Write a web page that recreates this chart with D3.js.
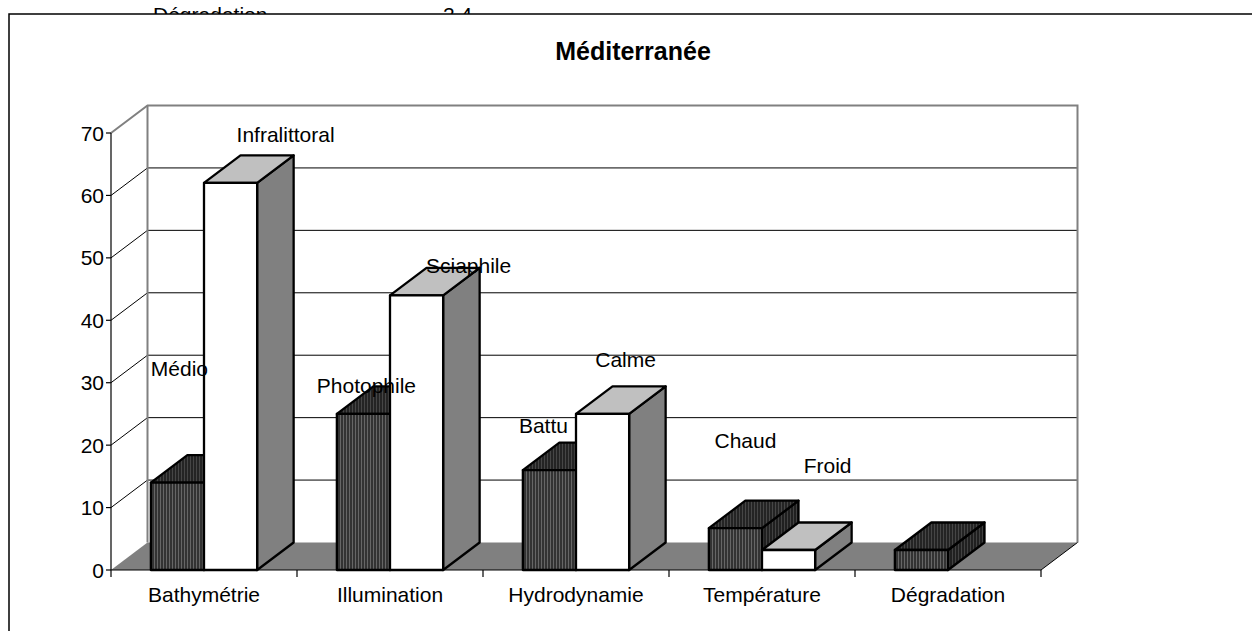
<!DOCTYPE html>
<html><head><meta charset="utf-8">
<script src="https://cdn.jsdelivr.net/npm/d3@7"></script>
<style>html,body{margin:0;padding:0;background:#fff;overflow:hidden}svg{display:block}text{font-family:"Liberation Sans",Arial,sans-serif}</style>
</head><body>
<svg id="c" width="1252" height="631"></svg>
<script>
const title = "Méditerranée";
const categories = ["Bathymétrie","Illumination","Hydrodynamie","Température","Dégradation"];
const seriesDarkValues  = [14, 25, 16, 6.7, 3.2];
const seriesWhiteValues = [62, 44, 25, 3.2, null];
const seriesDarkLabels  = ["Médio","Photophile","Battu","Chaud",""];
const seriesWhiteLabels = ["Infralittoral","Sciaphile","Calme","Froid",""];
const yTicks = [0,10,20,30,40,50,60,70];
const strayText = ["Dégradation","2.4"];

// layout (label placement offsets, in px relative to the bar's front-face centre / value units)
const darkLabelDx  = [2, 3, -6, 10, 0];
const darkLabelAt  = [31, 28.4, 22.0, 19.6, 0];
const whiteLabelDx = [55, 52, 23, 39, 0];
const whiteLabelAt = [68.6, 47.6, 32.5, 15.5, 0];

const svg = d3.select("#c");
const W = 1252, H = 631;
const DX = 36.5, DY = -27.5;

const x = d3.scaleBand().domain(categories).range([111, 1041]).padding(0);
const inner = d3.scaleBand().domain([0,1]).range([0, x.bandwidth()]).paddingInner(0).paddingOuter(0.75);
const y = d3.scaleLinear().domain([0,70]).range([570, 133]);

const defs = svg.append("defs");
function stripe(id, bg, line){
  const p = defs.append("pattern").attr("id", id).attr("patternUnits","userSpaceOnUse").attr("width",3).attr("height",10);
  p.append("rect").attr("width",3).attr("height",10).attr("fill",bg);
  p.append("rect").attr("x",1).attr("width",1).attr("height",10).attr("fill",line);
}
stripe("pFront", "#333333", "#666666");
stripe("pTop", "#242424", "#464646");
stripe("pSide", "#202020", "#424242");

// stray text above frame
svg.append("text").attr("x",153).attr("y",22).attr("font-size",21).text(strayText[0]);
svg.append("text").attr("x",443).attr("y",22).attr("font-size",21).text(strayText[1]);

// frame / chart area
svg.append("rect").attr("x",9).attr("y",14).attr("width",W).attr("height",H).attr("fill","#fff");
svg.append("path").attr("d",`M9,${H} L9,14 L${W},14`).attr("fill","none").attr("stroke","#000").attr("stroke-width",1.5);

// title
svg.append("text").attr("x",633).attr("y",60).attr("text-anchor","middle").attr("font-size",25).attr("font-weight","bold").text(title);

const x0 = x.range()[0], x1 = x.range()[1];
const yb = y(0), yt = y(70);

// back wall
svg.append("rect").attr("x",x0+DX).attr("y",yt+DY).attr("width",x1-x0).attr("height",yb-yt).attr("fill","#fff");
// gridlines on back wall and side wall
const g = svg.append("g");
yTicks.filter(v=>v>0 && v<70).forEach(v=>{
  g.append("line").attr("x1",x0+DX).attr("x2",x1+DX).attr("y1",y(v)+DY).attr("y2",y(v)+DY).attr("stroke","#000").attr("stroke-width",1);
  g.append("line").attr("x1",x0).attr("x2",x0+DX).attr("y1",y(v)).attr("y2",y(v)+DY).attr("stroke","#000").attr("stroke-width",1);
});
// wall borders (gray)
svg.append("path").attr("d",`M${x0},${yt} L${x0+DX},${yt+DY} L${x1+DX},${yt+DY} L${x1+DX},${yb+DY}`)
  .attr("fill","none").attr("stroke","#808080").attr("stroke-width",2);
svg.append("line").attr("x1",x0+DX).attr("x2",x0+DX).attr("y1",yt+DY).attr("y2",yb+DY).attr("stroke","#808080").attr("stroke-width",2);
// floor
svg.append("path").attr("d",`M${x0},${yb} L${x0+DX},${yb+DY} L${x1+DX},${yb+DY} L${x1},${yb} Z`).attr("fill","#808080");
svg.append("line").attr("x1",x1).attr("y1",yb).attr("x2",x1+DX).attr("y2",yb+DY).attr("stroke","#000").attr("stroke-width",1);

// bars
function bar(cat, k, v, front, top, side){
  if (v == null) return;
  const bx0 = x(cat) + inner(k), bx1 = bx0 + inner.bandwidth();
  const ty = y(v);
  const gg = svg.append("g").attr("stroke","#000").attr("stroke-width",2.3).attr("stroke-linejoin","round");
  gg.append("path").attr("d",`M${bx1},${ty} L${bx1+DX},${ty+DY} L${bx1+DX},${yb+DY} L${bx1},${yb} Z`).attr("fill",side);
  gg.append("path").attr("d",`M${bx0},${ty} L${bx0+DX},${ty+DY} L${bx1+DX},${ty+DY} L${bx1},${ty} Z`).attr("fill",top);
  gg.append("rect").attr("x",bx0).attr("y",ty).attr("width",bx1-bx0).attr("height",yb-ty).attr("fill",front);
}
categories.forEach((c,i)=>{
  bar(c, 0, seriesDarkValues[i], "url(#pFront)", "url(#pTop)", "url(#pSide)");
  bar(c, 1, seriesWhiteValues[i], "#ffffff", "#c0c0c0", "#808080");
});

// axes
const axY = svg.append("g");
axY.append("line").attr("x1",x0).attr("x2",x0).attr("y1",yt).attr("y2",yb).attr("stroke","#000").attr("stroke-width",1.2);
yTicks.forEach(v=>{
  axY.append("line").attr("x1",x0-5).attr("x2",x0).attr("y1",y(v)).attr("y2",y(v)).attr("stroke","#000").attr("stroke-width",1.2);
  axY.append("text").attr("x",x0-7).attr("y",y(v)).attr("dy","0.36em").attr("text-anchor","end").attr("font-size",21).text(v);
});
const axX = svg.append("g");
axX.append("line").attr("x1",x0).attr("x2",x1).attr("y1",yb).attr("y2",yb).attr("stroke","#000").attr("stroke-width",1.2);
categories.concat([null]).forEach((c,i)=>{
  const xx = c ? x(c) : x1;
  axX.append("line").attr("x1",xx).attr("x2",xx).attr("y1",yb).attr("y2",yb+7).attr("stroke","#000").attr("stroke-width",1.2);
});
categories.forEach(c=>{
  axX.append("text").attr("x",x(c)+x.bandwidth()/2).attr("y",602).attr("text-anchor","middle").attr("font-size",21).text(c);
});

// data labels
const lab = svg.append("g").attr("font-size",21).attr("text-anchor","middle");
categories.forEach((c,i)=>{
  if (seriesDarkLabels[i]) lab.append("text").attr("x",x(c)+inner(0)+inner.bandwidth()/2+darkLabelDx[i]).attr("y",y(darkLabelAt[i])).text(seriesDarkLabels[i]);
  if (seriesWhiteLabels[i]) lab.append("text").attr("x",x(c)+inner(1)+inner.bandwidth()/2+whiteLabelDx[i]).attr("y",y(whiteLabelAt[i])).text(seriesWhiteLabels[i]);
});
</script>
</body></html>
